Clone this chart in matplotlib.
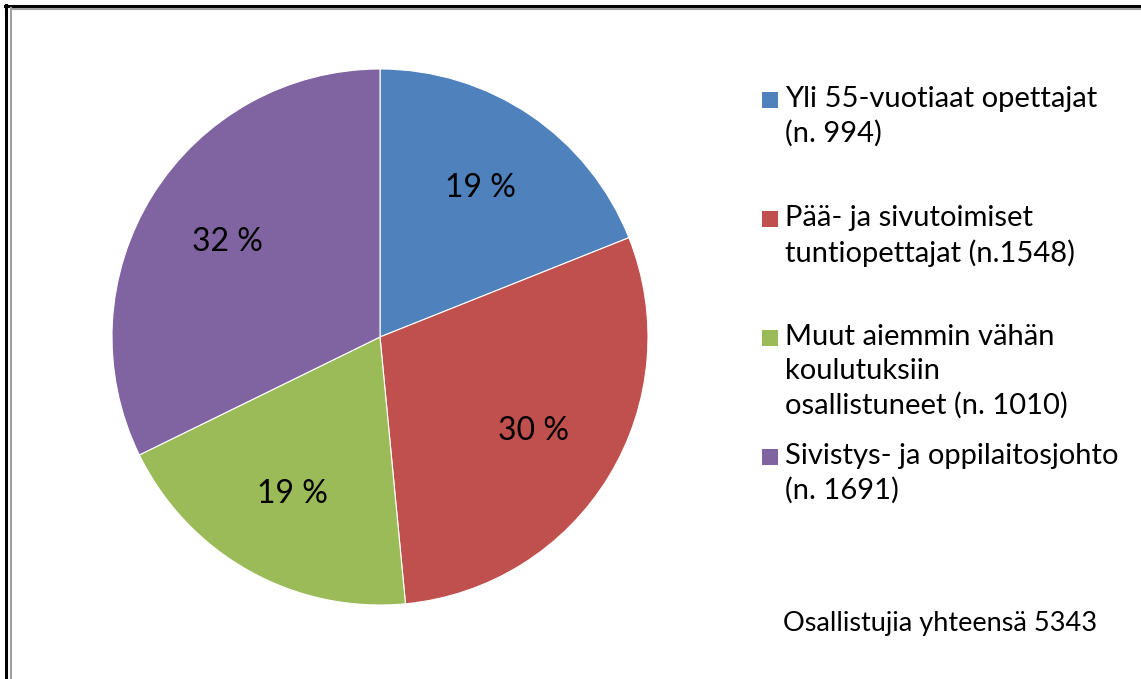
import matplotlib.pyplot as plt
from matplotlib.patches import Rectangle
from matplotlib.lines import Line2D

# data
labels = ["Yli 55-vuotiaat opettajat\n(n. 994)",
          "Pää- ja sivutoimiset\ntuntiopettajat (n.1548)",
          "Muut aiemmin vähän\nkoulutuksiin\nosallistuneet (n. 1010)",
          "Sivistys- ja oppilaitosjohto\n(n. 1691)"]
counts = [994, 1548, 1010, 1691]
colors = ["#4F81BD", "#C0504D", "#9BBB59", "#8064A2"]
total_text = "Osallistujia yhteensä 5343"

plt.rcParams['font.family'] = ['Lato', 'DejaVu Sans']

W, H = 1141, 679
fig = plt.figure(figsize=(W / 100, H / 100), dpi=100)

# pie axes: centre ~ (380, 337), radius ~ 268 px
cx, cy, r = 380, 337, 268
ax = fig.add_axes([(cx - r) / W, 1 - (cy + r) / H, 2 * r / W, 2 * r / H])
wedges, texts, autotexts = ax.pie(
    counts, colors=colors, startangle=90, counterclock=False,
    autopct=lambda p: f"{p:.0f} %", pctdistance=0.67,
    wedgeprops=dict(linewidth=0.8, edgecolor="white"),
    textprops=dict(fontsize=23, color="black"))
ax.set_xlim(-1, 1)
ax.set_ylim(-1, 1)
ax.set_aspect("equal")

# legend drawn by hand, equal slots per entry
x_box, x_text, y_first, step = 762, 785, 100, 119
for i, (lab, col) in enumerate(zip(labels, colors)):
    y = y_first + i * step
    fig.patches.append(Rectangle((x_box / W, 1 - (y + 8) / H), 16 / W, 16 / H,
                                 transform=fig.transFigure, facecolor=col,
                                 edgecolor="none"))
    fig.text(x_text / W, 1 - (y - 14) / H, lab, fontsize=21, va="top",
             ha="left", linespacing=1.38)

fig.text(783 / W, 1 - 623 / H, total_text, fontsize=19.5, va="center", ha="left")

# double frame at top and left
fig.lines.append(Line2D([5.5 / W, 5.5 / W], [0, 1 - 5 / H], color="black",
                        linewidth=2.2, transform=fig.transFigure))
fig.lines.append(Line2D([5 / W, 1], [1 - 6 / H, 1 - 6 / H], color="black",
                        linewidth=2.2, transform=fig.transFigure))
fig.lines.append(Line2D([11 / W, 11 / W], [0, 1 - 8 / H], color="#A0A0A0",
                        linewidth=1.5, transform=fig.transFigure))
fig.lines.append(Line2D([11 / W, 1], [1 - 9 / H, 1 - 9 / H], color="#A0A0A0",
                        linewidth=1.5, transform=fig.transFigure))

fig.savefig("out.png", dpi=100)
